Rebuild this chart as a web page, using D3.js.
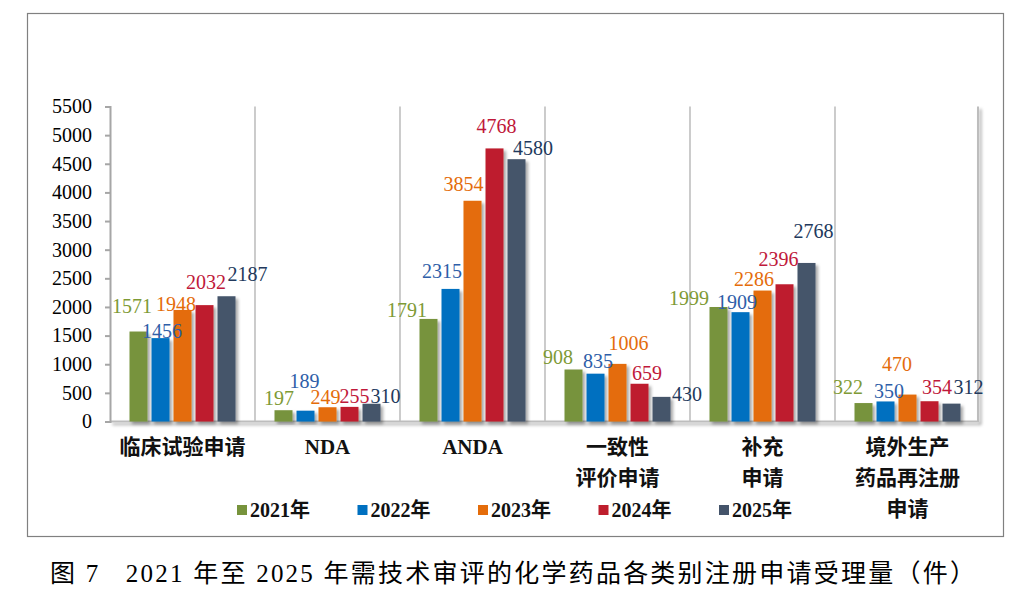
<!DOCTYPE html>
<html>
<head>
<meta charset="utf-8">
<script src="https://cdn.jsdelivr.net/npm/d3@7"></script>
<style>
  html, body { margin: 0; padding: 0; background: #fff; }
  svg { display: block; }
  .serif { font-family: "Liberation Serif", "DejaVu Serif", "Noto Sans CJK SC", serif; }
</style>
</head>
<body>
<div id="chart"></div>
<script>
// chart data
var categories = [
	["临床试验申请"],
	["NDA"],
	["ANDA"],
	["一致性", "评价申请"],
	["补充", "申请"],
	["境外生产", "药品再注册", "申请"]
];
var years = ["2021年", "2022年", "2023年", "2024年", "2025年"];
var v2021 = [1571, 197, 1791, 908, 1999, 322];
var v2022 = [1456, 189, 2315, 835, 1909, 350];
var v2023 = [1948, 249, 3854, 1006, 2286, 470];
var v2024 = [2032, 255, 4768, 659, 2396, 354];
var v2025 = [2187, 310, 4580, 430, 2768, 312];
var yTicks = [0, 500, 1000, 1500, 2000, 2500, 3000, 3500, 4000, 4500, 5000, 5500];
var caption = "图 7   2021 年至 2025 年需技术审评的化学药品各类别注册申请受理量（件）";

(function() {
	var series = [v2021, v2022, v2023, v2024, v2025];
	var barColors = ["#77933C", "#0070C0", "#E46C0A", "#BE1E2D", "#44546A"];
	var labelColors = ["#7E9A35", "#2E5EA8", "#E46C0A", "#C0183A", "#22395C"];
	// hand placed data label nudges, like the source chart
	var labelShift = [
		[[-6.5, -25], [-4.5, -12], [-21.5, -9], [-15.5, -12], [-29.5, -9], [-15.5, -15.5]],
		[[1.5, -7], [-1, -29], [-8.5, -18], [2.5, -12], [-3.5, -10], [3.5, -10.5]],
		[[-6.5, -6], [-2, -10], [-9, -16], [11, -20], [-8.5, -11.5], [-10.5, -30]],
		[[1.5, -23], [5, -10], [2, -22], [7.5, -10], [-6, -25], [7.5, -14]],
		[[21, -22], [14, -7], [16.5, -11], [25.5, -2], [7, -32], [17, -16]]
	];

	var svg = d3
			.select("#chart")
			.append("svg")
			.attr("width", 1018)
			.attr("height", 602)
			.style("background-color", "white"),
		plot = { left: 110, right: 978, top: 106.5, bottom: 421.5 };

	var defs = svg.append("defs");
	defs
		.append("filter")
		.attr("id", "shadow")
		.attr("x", "-30%")
		.attr("y", "-30%")
		.attr("width", "160%")
		.attr("height", "160%")
		.append("feDropShadow")
		.attr("dx", 2.5)
		.attr("dy", 2.5)
		.attr("stdDeviation", 1.8)
		.attr("flood-color", "#000")
		.attr("flood-opacity", 0.35);

	// outer frame
	svg
		.append("rect")
		.attr("x", 27.5)
		.attr("y", 13.5)
		.attr("width", 976)
		.attr("height", 523)
		.attr("fill", "none")
		.attr("stroke", "#808080")
		.attr("stroke-width", 1.2);

	var x0 = d3
		.scaleBand()
		.domain(d3.range(categories.length))
		.range([plot.left, 980]);

	var x1 = d3
		.scaleBand()
		.domain(d3.range(years.length))
		.range([19.5, 125.5])
		.paddingInner(4 / 22);

	var y = d3
		.scaleLinear()
		.domain([0, 5500])
		.range([plot.bottom, plot.top]);

	// plot area edges with soft shadow
	svg
		.append("path")
		.attr("d", "M" + plot.left + "," + plot.bottom + "H" + plot.right + "V" + plot.top)
		.attr("fill", "none")
		.attr("stroke", "#BDBDBD")
		.attr("stroke-width", 2)
		.attr("filter", "url(#shadow)");

	// category separators
	svg
		.append("g")
		.selectAll("line")
		.data(d3.range(1, categories.length))
		.enter()
		.append("line")
		.attr("x1", function(d) { return x0(d); })
		.attr("x2", function(d) { return x0(d); })
		.attr("y1", plot.top)
		.attr("y2", plot.bottom)
		.attr("stroke", "#BFBFBF")
		.attr("stroke-width", 1.6);

	// y axis
	var yAxis = svg
		.append("g")
		.attr("transform", "translate(" + plot.left + ",0)")
		.call(d3.axisLeft(y).tickValues(yTicks).tickSize(5).tickPadding(13).tickFormat(d3.format("d")));
	yAxis.attr("font-family", null).attr("font-size", null);
	yAxis.selectAll("path, line").attr("stroke", "#A6A6A6").attr("stroke-width", 2);
	yAxis
		.selectAll("text")
		.attr("class", "serif")
		.attr("fill", "#000")
		.style("font-size", "20px");

	var points = [];
	series.forEach(function(vals, si) {
		vals.forEach(function(v, ci) {
			points.push({ s: si, c: ci, v: v });
		});
	});

	// bars
	svg
		.append("g")
		.selectAll("rect")
		.data(points)
		.enter()
		.append("rect")
		.attr("x", function(d) { return x0(d.c) + x1(d.s); })
		.attr("y", function(d) { return y(d.v); })
		.attr("width", x1.bandwidth())
		.attr("height", function(d) { return y(0) - y(d.v); })
		.attr("fill", function(d) { return barColors[d.s]; })
		.attr("filter", "url(#shadow)");

	// data labels, on top of every bar
	svg
		.append("g")
		.selectAll("text")
		.data(points)
		.enter()
		.append("text")
		.attr("class", "serif")
		.attr("x", function(d) {
			return x0(d.c) + x1(d.s) + x1.bandwidth() / 2 + labelShift[d.s][d.c][0];
		})
		.attr("y", function(d) { return y(d.v) + labelShift[d.s][d.c][1]; })
		.attr("dy", "0.33em")
		.attr("text-anchor", "middle")
		.attr("fill", function(d) { return labelColors[d.s]; })
		.style("font-size", "20px")
		.text(function(d) { return d.v; });

	// category labels
	svg
		.append("g")
		.selectAll("text")
		.data(categories)
		.enter()
		.append("text")
		.attr("class", "serif")
		.attr("text-anchor", "middle")
		.attr("fill", "#111")
		.style("font-weight", "bold")
		.style("font-size", "21px")
		.each(function(lines, i) {
			var t = d3.select(this);
			lines.forEach(function(line, k) {
				t
					.append("tspan")
					.attr("x", x0(i) + x0.bandwidth() / 2)
					.attr("y", 454 + k * 31)
					.text(line);
			});
		});

	// legend
	var legend = svg
		.append("g")
		.selectAll("g")
		.data(years)
		.enter()
		.append("g")
		.attr("transform", function(d, i) {
			return "translate(" + (237 + i * 120.5) + ",510)";
		});
	legend
		.append("rect")
		.attr("x", 0)
		.attr("y", -5)
		.attr("width", 10)
		.attr("height", 10)
		.attr("fill", function(d, i) { return barColors[i]; });
	legend
		.append("text")
		.attr("class", "serif")
		.attr("x", 13)
		.attr("y", 0)
		.attr("dy", "0.35em")
		.attr("fill", "#111")
		.style("font-weight", "bold")
		.style("font-size", "20px")
		.text(function(d) { return d; });

	// caption
	svg
		.append("text")
		.attr("class", "serif")
		.attr("x", 50)
		.attr("y", 582)
		.attr("textLength", 925)
		.attr("lengthAdjust", "spacing")
		.attr("fill", "#000")
		.style("font-size", "25px")
		.style("white-space", "pre")
		.text(caption);
})();
</script>
</body>
</html>
